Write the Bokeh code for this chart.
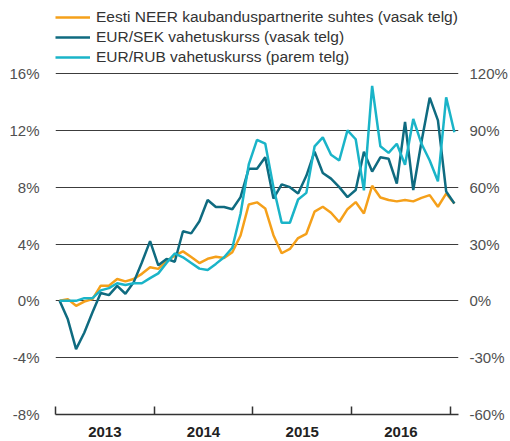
from bokeh.plotting import figure
from bokeh.models import Range1d, LinearAxis, FixedTicker, Legend, LegendItem, PrintfTickFormatter
from bokeh.embed import file_html
from bokeh.resources import INLINE

# month index: 0 = Jan 2013 ... 48 = Jan 2017
month_index = list(range(49))
year_labels = ["2013", "2014", "2015", "2016"]

neer = [0, 0.12, -0.35, -0.05, 0.12, 1.07, 1.07, 1.54, 1.37, 1.54,
        1.9, 2.37, 2.25, 2.8, 3.18, 3.48, 3.08, 2.66, 2.96, 3.1,
        3.02, 3.42, 4.6, 6.78, 6.93, 6.5, 4.62, 3.35, 3.65, 4.42,
        4.72, 6.28, 6.62, 6.2, 5.55, 6.45, 6.95, 6.15, 8.1, 7.27,
        7.1, 7.0, 7.1, 7.0, 7.25, 7.44, 6.62, 7.55, 6.85]

sek = [0, -1.3, -3.4, -2.25, -0.8, 0.55, 0.4, 1.05, 0.5, 1.3,
       2.7, 4.2, 2.5, 2.95, 2.75, 4.9, 4.75, 5.6, 7.1, 6.6,
       6.6, 6.45, 7.3, 9.3, 9.3, 10.1, 7.2, 8.2, 8.0, 7.55,
       8.8, 10.5, 9.0, 8.6, 8.0, 7.3, 7.8, 10.5, 9.1, 10.1,
       10.0, 8.25, 12.6, 7.8, 11.2, 14.3, 12.7, 7.7, 6.85]

rub = [0, 0, 0, 1.4, 1.4, 5.5, 6.7, 9.3, 8.4, 9.3,
       9.3, 12.0, 14.5, 20.0, 25.0, 23.0, 20.0, 17.0, 16.3, 19.5,
       23.0, 28.0, 46.0, 72.0, 85.0, 83.0, 60.0, 41.2, 41.2, 53.5,
       57.0, 81.5, 86.3, 77.1, 74.1, 90.0, 85.3, 58.3, 113.5, 81.6,
       78.1, 82.9, 71.8, 96.0, 82.9, 74.1, 63.1, 107.4, 89.0]

left_ticks = [-8, -4, 0, 4, 8, 12, 16]
right_ticks = [-60, -30, 0, 30, 60, 90, 120]
year_centers = [5.5, 17.5, 29.5, 41.5]
year_bounds = [-0.5, 11.5, 23.5, 35.5, 47.5]

names = ["Eesti NEER kaubanduspartnerite suhtes (vasak telg)",
         "EUR/SEK vahetuskurss (vasak telg)",
         "EUR/RUB vahetuskurss (parem telg)"]
colors = ["#f5a01a", "#0f6b80", "#1ab4c8"]

FONT = "Liberation Sans"

# layout: the frame reaches the top of the canvas so the legend sits inside it;
# the ranges are extended upward so that 16% / 120% fall 73px from the top
H, BOTTOM = 441, 27
TOP_GAP = 73
span_px = H - BOTTOM - TOP_GAP
left_top = 16 + TOP_GAP * 24 / span_px
right_top = 120 + TOP_GAP * 180 / span_px

p = figure(width=510, height=H, output_backend="svg", toolbar_location=None,
           x_range=Range1d(-0.5, 48.5), y_range=Range1d(-8, left_top),
           min_border_left=55, min_border_right=45, min_border_top=0, min_border_bottom=BOTTOM)
p.extra_y_ranges = {"rub": Range1d(-60, right_top)}
p.outline_line_color = None
p.background_fill_color = "white"
p.border_fill_color = "white"

# grid
p.xgrid.visible = False
p.ygrid.ticker = FixedTicker(ticks=left_ticks)
p.ygrid.grid_line_color = "#3c3c3c"
p.ygrid.grid_line_width = 1

# left axis
ya = p.yaxis[0]
ya.ticker = FixedTicker(ticks=left_ticks)
ya.formatter = PrintfTickFormatter(format="%d%%")
ya.axis_line_color = None
ya.major_tick_line_color = None
ya.minor_tick_line_color = None
ya.major_label_text_font = FONT
ya.major_label_text_font_size = "15px"
ya.major_label_text_color = "#505050"
ya.major_label_standoff = 10

# right axis
ra = LinearAxis(y_range_name="rub")
ra.ticker = FixedTicker(ticks=right_ticks)
ra.formatter = PrintfTickFormatter(format="%d%%")
ra.axis_line_color = None
ra.major_tick_line_color = None
ra.minor_tick_line_color = None
ra.major_label_text_font = FONT
ra.major_label_text_font_size = "15px"
ra.major_label_text_color = "#505050"
ra.major_label_standoff = 5
p.add_layout(ra, "right")

# x axis
xa = p.xaxis[0]
xa.ticker = FixedTicker(ticks=year_centers, minor_ticks=year_bounds)
xa.major_label_overrides = {c: l for c, l in zip(year_centers, year_labels)}
xa.major_tick_in = 0
xa.major_tick_out = 0
xa.minor_tick_in = 8
xa.minor_tick_out = 0
xa.minor_tick_line_color = "#333333"
xa.minor_tick_line_width = 1.5
xa.axis_line_color = "#333333"
xa.axis_line_width = 1.5
xa.major_label_text_font = FONT
xa.major_label_text_font_size = "15px"
xa.major_label_text_font_style = "bold"
xa.major_label_text_color = "#222222"
xa.major_label_standoff = 12

r1 = p.line(month_index, neer, line_color=colors[0], line_width=2.5)
r2 = p.line(month_index, sek, line_color=colors[1], line_width=2.5)
r3 = p.line(month_index, rub, line_color=colors[2], line_width=2.5, y_range_name="rub")

legend = Legend(items=[LegendItem(label=names[0], renderers=[r1]),
                       LegendItem(label=names[1], renderers=[r2]),
                       LegendItem(label=names[2], renderers=[r3])],
                location=(0, H - BOTTOM - 67), orientation="vertical")
legend.margin = 0
legend.padding = 0
legend.spacing = 0
legend.border_line_alpha = 0
legend.background_fill_alpha = 0
legend.glyph_width = 35
legend.glyph_height = 20
legend.label_height = 20
legend.label_standoff = 6
legend.label_text_font = FONT
legend.label_text_font_size = "15.5px"
legend.label_text_color = "#333333"
p.add_layout(legend, "center")

open("out.html", "w").write(file_html(p, INLINE))
